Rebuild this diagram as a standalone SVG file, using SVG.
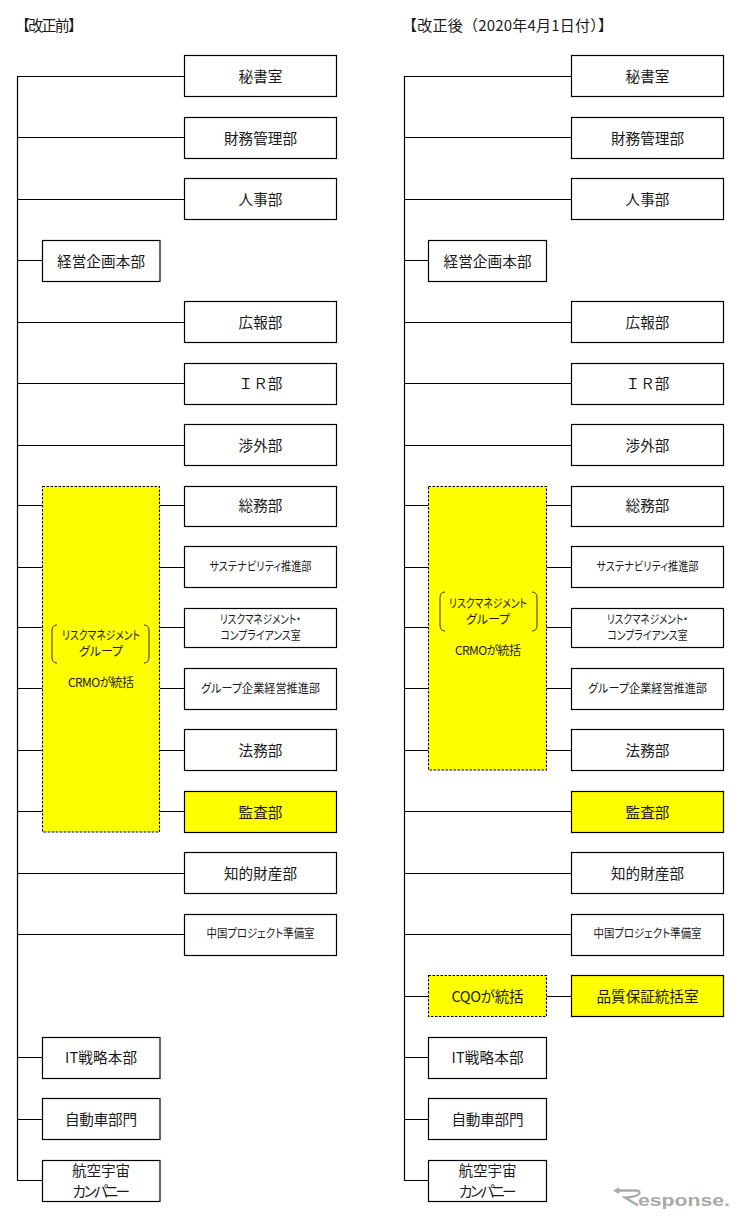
<svg xmlns="http://www.w3.org/2000/svg" width="742" height="1220" viewBox="0 0 742 1220">
<style>
text{font-family:"Noto Sans CJK JP","Noto Sans",sans-serif;fill:#1a1a1a;text-anchor:middle}
.t{font-size:14.6px}
.s{font-size:12px;font-feature-settings:"palt"}
.h{font-size:15px;text-anchor:start}
.b{fill:#fff;stroke:#000;stroke-width:1.2}
.y{fill:#ff0;stroke:#000;stroke-width:1.2}
.d{fill:#ff0;stroke:#000;stroke-width:1.1;stroke-dasharray:2.5 1.5}
.c{fill:none;stroke:#000;stroke-width:1.2}
.br{fill:none;stroke:#333;stroke-width:1}
</style>
<rect width="742" height="1220" fill="#fff"/>
<text class="h" x="15" y="31" textLength="68">【改正前】</text>
<text class="h" x="402" y="31" textLength="211">【改正後（2020年4月1日付）】</text>
<g id="connectors">
<path class="c" d="M184.500 76.500H17.500V1180.500H42.500M17.500 137.500H184.500M17.500 199.500H184.500M17.500 260.500H42.500M17.500 322.500H184.500M17.500 383.500H184.500M17.500 445.500H184.500M17.500 505.500H42.500M160 505.500H184.500M17.500 567.500H42.500M160 567.500H184.500M17.500 627.500H42.500M160 627.500H184.500M17.500 688.500H42.500M160 688.500H184.500M17.500 750.500H42.500M160 750.500H184.500M17.500 811.500H42.500M160 811.500H184.500M17.500 873.500H184.500M17.500 934.500H184.500M17.500 1057.500H42.500M17.500 1119.500H42.500"/>
<path class="c" d="M571.500 76.500H404.500V1180.500H428.500M404.500 137.500H571.500M404.500 199.500H571.500M404.500 260.500H428.500M404.500 322.500H571.500M404.500 383.500H571.500M404.500 445.500H571.500M404.500 505.500H428.500M546.500 505.500H571.500M404.500 567.500H428.500M546.500 567.500H571.500M404.500 627.500H428.500M546.500 627.500H571.500M404.500 688.500H428.500M546.500 688.500H571.500M404.500 750.500H428.500M546.500 750.500H571.500M404.500 811.500H571.500M404.500 873.500H571.500M404.500 934.500H571.500M404.500 996.500H428.500M546.500 996.500H571.500M404.500 1057.500H428.500M404.500 1119.500H428.500"/>
</g>
<g id="before">
<g id="l-hisho"><rect class="b" x="184.500" y="55.500" width="152" height="41"/><text class="t" x="260.500" y="82">秘書室</text></g>
<g id="l-zaimu"><rect class="b" x="184.500" y="117.500" width="152" height="41"/><text class="t" x="260.500" y="144" textLength="73">財務管理部</text></g>
<g id="l-jinji"><rect class="b" x="184.500" y="178.500" width="152" height="41"/><text class="t" x="260.500" y="205">人事部</text></g>
<g id="l-keiei"><rect class="b" x="42.500" y="240.500" width="117.500" height="41"/><text class="t" x="101" y="267" textLength="88">経営企画本部</text></g>
<g id="l-koho"><rect class="b" x="184.500" y="301.500" width="152" height="41"/><text class="t" x="260.500" y="328">広報部</text></g>
<g id="l-ir"><rect class="b" x="184.500" y="363.500" width="152" height="41"/><text class="t" x="260.500" y="389">ＩＲ部</text></g>
<g id="l-shogai"><rect class="b" x="184.500" y="424.500" width="152" height="41"/><text class="t" x="260.500" y="451">渉外部</text></g>
<g id="l-risk"><rect class="d" x="42.500" y="486.500" width="117" height="345.500"/>
<path class="br" d="M57 625Q52 625 52 631V657Q52 663 57 663M144 625Q149 625 149 631V657Q149 663 144 663"/>
<text class="s" x="101" y="639.500" textLength="78" lengthAdjust="spacingAndGlyphs">リスクマネジメント</text><text class="s" x="101" y="655.500">グループ</text><text class="s" x="101" y="687" textLength="66">CRMOが統括</text></g>
<g id="l-somu"><rect class="b" x="184.500" y="486.500" width="152" height="40"/><text class="t" x="260.500" y="511">総務部</text></g>
<g id="l-sustain"><rect class="b" x="184.500" y="546.500" width="152" height="41"/><text class="s" x="260.500" y="571" textLength="102" lengthAdjust="spacingAndGlyphs">サステナビリティ推進部</text></g>
<g id="l-comp"><rect class="b" x="184.500" y="608.500" width="152" height="39"/><text class="s" x="260.500" y="624" textLength="81" lengthAdjust="spacingAndGlyphs">リスクマネジメント・</text><text class="s" x="260.500" y="640" textLength="80" lengthAdjust="spacingAndGlyphs">コンプライアンス室</text></g>
<g id="l-group"><rect class="b" x="184.500" y="668.500" width="152" height="41"/><text class="s" x="260.500" y="693" textLength="119" lengthAdjust="spacingAndGlyphs">グループ企業経営推進部</text></g>
<g id="l-homu"><rect class="b" x="184.500" y="729.500" width="152" height="41"/><text class="t" x="260.500" y="756">法務部</text></g>
<g id="l-kansa"><rect class="y" x="184.500" y="791.500" width="152" height="41"/><text class="t" x="260.500" y="818">監査部</text></g>
<g id="l-chizai"><rect class="b" x="184.500" y="852.500" width="152" height="41"/><text class="t" x="260.500" y="879">知的財産部</text></g>
<g id="l-china"><rect class="b" x="184.500" y="914.500" width="152" height="41"/><text class="s" x="260.500" y="938" textLength="108" lengthAdjust="spacingAndGlyphs">中国プロジェクト準備室</text></g>
<g id="l-it"><rect class="b" x="42.500" y="1037.500" width="117.500" height="41"/><text class="t" x="101" y="1063" textLength="72">IT戦略本部</text></g>
<g id="l-auto"><rect class="b" x="42.500" y="1098.500" width="117.500" height="41"/><text class="t" x="101" y="1125" textLength="72">自動車部門</text></g>
<g id="l-aero"><rect class="b" x="42.500" y="1160.500" width="117.500" height="41"/><text class="t" x="101" y="1176" textLength="58">航空宇宙</text><text class="t" x="101" y="1197" textLength="58">カンパニー</text></g>
</g>
<g id="after">
<g id="r-hisho"><rect class="b" x="571.500" y="55.500" width="152" height="41"/><text class="t" x="647.500" y="82">秘書室</text></g>
<g id="r-zaimu"><rect class="b" x="571.500" y="117.500" width="152" height="41"/><text class="t" x="647.500" y="144" textLength="73">財務管理部</text></g>
<g id="r-jinji"><rect class="b" x="571.500" y="178.500" width="152" height="41"/><text class="t" x="647.500" y="205">人事部</text></g>
<g id="r-keiei"><rect class="b" x="428.500" y="240.500" width="118" height="41"/><text class="t" x="487.500" y="267" textLength="88">経営企画本部</text></g>
<g id="r-koho"><rect class="b" x="571.500" y="301.500" width="152" height="41"/><text class="t" x="647.500" y="328">広報部</text></g>
<g id="r-ir"><rect class="b" x="571.500" y="363.500" width="152" height="41"/><text class="t" x="647.500" y="389">ＩＲ部</text></g>
<g id="r-shogai"><rect class="b" x="571.500" y="424.500" width="152" height="41"/><text class="t" x="647.500" y="451">渉外部</text></g>
<g id="r-risk"><rect class="d" x="428.500" y="486.500" width="118" height="283.500"/>
<path class="br" d="M445 592Q440 592 440 598V625Q440 631 445 631M532 592Q537 592 537 598V625Q537 631 532 631"/>
<text class="s" x="488" y="607.500" textLength="78" lengthAdjust="spacingAndGlyphs">リスクマネジメント</text><text class="s" x="488" y="623.500">グループ</text><text class="s" x="488" y="655" textLength="66">CRMOが統括</text></g>
<g id="r-somu"><rect class="b" x="571.500" y="486.500" width="152" height="40"/><text class="t" x="647.500" y="511">総務部</text></g>
<g id="r-sustain"><rect class="b" x="571.500" y="546.500" width="152" height="41"/><text class="s" x="647.500" y="571" textLength="102" lengthAdjust="spacingAndGlyphs">サステナビリティ推進部</text></g>
<g id="r-comp"><rect class="b" x="571.500" y="608.500" width="152" height="39"/><text class="s" x="647.500" y="624" textLength="81" lengthAdjust="spacingAndGlyphs">リスクマネジメント・</text><text class="s" x="647.500" y="640" textLength="80" lengthAdjust="spacingAndGlyphs">コンプライアンス室</text></g>
<g id="r-group"><rect class="b" x="571.500" y="668.500" width="152" height="41"/><text class="s" x="647.500" y="693" textLength="119" lengthAdjust="spacingAndGlyphs">グループ企業経営推進部</text></g>
<g id="r-homu"><rect class="b" x="571.500" y="729.500" width="152" height="41"/><text class="t" x="647.500" y="756">法務部</text></g>
<g id="r-kansa"><rect class="y" x="571.500" y="791.500" width="152" height="41"/><text class="t" x="647.500" y="818">監査部</text></g>
<g id="r-chizai"><rect class="b" x="571.500" y="852.500" width="152" height="41"/><text class="t" x="647.500" y="879">知的財産部</text></g>
<g id="r-china"><rect class="b" x="571.500" y="914.500" width="152" height="41"/><text class="s" x="647.500" y="938" textLength="108" lengthAdjust="spacingAndGlyphs">中国プロジェクト準備室</text></g>
<g id="r-cqo"><rect class="d" x="428.500" y="975.500" width="118" height="41"/><text class="t" x="487.500" y="1002" textLength="72">CQOが統括</text></g>
<g id="r-hinshitsu"><rect class="y" x="571.500" y="975.500" width="152" height="41"/><text class="t" x="647.500" y="1002" textLength="102">品質保証統括室</text></g>
<g id="r-it"><rect class="b" x="428.500" y="1037.500" width="118" height="41"/><text class="t" x="487.500" y="1063" textLength="72">IT戦略本部</text></g>
<g id="r-auto"><rect class="b" x="428.500" y="1098.500" width="118" height="41"/><text class="t" x="487.500" y="1125" textLength="72">自動車部門</text></g>
<g id="r-aero"><rect class="b" x="428.500" y="1160.500" width="118" height="41"/><text class="t" x="487.500" y="1176" textLength="58">航空宇宙</text><text class="t" x="487.500" y="1197" textLength="58">カンパニー</text></g>
</g>
<g id="watermark">
<path d="M619 1188.500L615.500 1190.500L619 1193M616 1190.500H636Q641 1191 639 1194Q636 1197 625 1197.500L638 1205.500" fill="none" stroke="#aaa" stroke-width="2.4"/>
<text x="638" y="1206" style="font-family:'Liberation Sans',sans-serif;font-size:17px;font-weight:bold;fill:#aaa;text-anchor:start" textLength="92" lengthAdjust="spacingAndGlyphs">esponse.</text>
</g>
</svg>
